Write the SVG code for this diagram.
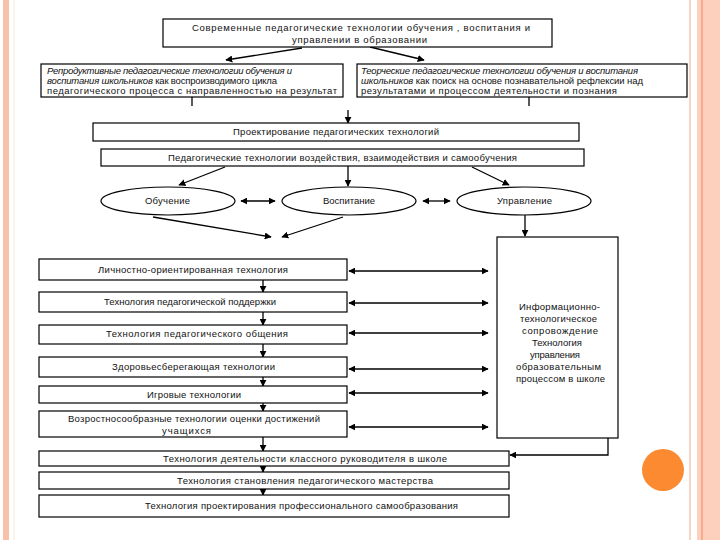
<svg xmlns="http://www.w3.org/2000/svg" width="720" height="540" viewBox="0 0 720 540">
<defs>
<marker id="ah" viewBox="0 0 10 10" refX="9" refY="5" markerWidth="7" markerHeight="7" orient="auto-start-reverse" markerUnits="userSpaceOnUse"><path d="M0,0 L10,5 L0,10 z" fill="#000"/></marker>
<style>
.b{fill:#fff;stroke:#000;stroke-width:1.2}
.t{font-family:"Liberation Sans",Arial,sans-serif;font-size:9.5px;fill:#111}
.c{text-anchor:middle}
.i{font-style:italic}
.l{stroke:#000;stroke-width:1.3;fill:none}
.a{stroke:#000;stroke-width:1.3;fill:none;marker-end:url(#ah)}
.d{stroke:#000;stroke-width:1.3;fill:none;marker-end:url(#ah);marker-start:url(#ah)}
</style>
</defs>
<rect width="720" height="540" fill="#fff"/>
<g id="decor">
<rect x="3" y="0" width="6" height="540" fill="#f9c2a8"/>
<line x1="14" y1="0" x2="14" y2="540" stroke="#f6ecd8" stroke-width="1"/>
<line x1="690" y1="0" x2="690" y2="540" stroke="#f5d6c6" stroke-width="2"/>
<rect x="697" y="0" width="23" height="540" fill="#fdd0bd"/>
<line x1="702" y1="0" x2="702" y2="540" stroke="#f2a07a" stroke-width="1.5"/>
<circle cx="663" cy="470" r="21" fill="#fb8a30"/>
</g>
<g id="connectors">
<line class="a" x1="302" y1="48" x2="226" y2="60"/>
<line class="a" x1="370" y1="47" x2="424" y2="60"/>
<line class="l" x1="192" y1="97" x2="192" y2="106"/>
<line class="l" x1="529" y1="97" x2="529" y2="106"/>
<line class="a" x1="348" y1="110" x2="348" y2="123"/>
<line class="a" x1="225" y1="167" x2="179" y2="185"/>
<line class="a" x1="348" y1="166" x2="348" y2="186"/>
<line class="a" x1="472" y1="167" x2="509" y2="185"/>
<line class="d" x1="241" y1="201" x2="275" y2="201"/>
<line class="d" x1="423" y1="201" x2="450" y2="201"/>
<line class="a" x1="153" y1="217" x2="271" y2="237"/>
<line class="a" x1="343" y1="217" x2="282" y2="237"/>
<line class="a" x1="525" y1="214" x2="525" y2="236"/>
<line class="d" x1="349" y1="271" x2="488" y2="271"/>
<line class="d" x1="349" y1="303" x2="488" y2="303"/>
<line class="d" x1="349" y1="333" x2="488" y2="333"/>
<line class="d" x1="349" y1="369" x2="488" y2="369"/>
<line class="d" x1="349" y1="393" x2="488" y2="393"/>
<line class="d" x1="349" y1="427" x2="488" y2="427"/>
<line class="a" x1="263" y1="280" x2="263" y2="292"/>
<line class="a" x1="263" y1="312" x2="263" y2="325"/>
<line class="a" x1="263" y1="344" x2="263" y2="357"/>
<line class="a" x1="263" y1="377" x2="263" y2="386"/>
<line class="a" x1="263" y1="403" x2="263" y2="411"/>
<line class="a" x1="263" y1="437" x2="263" y2="451"/>
<line class="a" x1="263" y1="466" x2="263" y2="472"/>
<line class="a" x1="263" y1="489" x2="263" y2="495"/>
<polyline class="a" points="547,426 608,426 608,455 510,455"/>
</g>
<g id="n-top">
<rect class="b" x="163" y="19" width="389" height="28"/>
<text class="t" x="192" y="31" textLength="338" lengthAdjust="spacing">Современные педагогические технологии обучения , воспитания и</text>
<text class="t" x="292" y="43" textLength="135" lengthAdjust="spacing">управлении в образовании</text>
</g>
<g id="n-repro">
<rect class="b" x="41" y="64" width="302" height="33"/>
<text class="t i" x="47" y="74" textLength="245" lengthAdjust="spacing">Репродуктивные педагогические технологии обучения и</text>
<text class="t" x="47" y="84" textLength="230" lengthAdjust="spacing"><tspan class="i">воспитания школьников</tspan> как воспроизводимого цикла</text>
<text class="t" x="47" y="94" textLength="290" lengthAdjust="spacing">педагогического процесса с направленностью на результат</text>
</g>
<g id="n-creative">
<rect class="b" x="357" y="64" width="330" height="33"/>
<text class="t i" x="361" y="74" textLength="277" lengthAdjust="spacing">Теорческие педагогические технологии обучения и воспитания</text>
<text class="t" x="361" y="84" textLength="282" lengthAdjust="spacing"><tspan class="i">школьников</tspan> как поиск на основе познавательной рефлексии над</text>
<text class="t" x="361" y="94" textLength="256" lengthAdjust="spacing">результатами и процессом деятельности и познания</text>
</g>
<g id="n-design">
<rect class="b" x="93" y="123" width="486" height="18"/>
<text class="t" x="233" y="135" textLength="206" lengthAdjust="spacing">Проектирование педагогических технологий</text>
</g>
<g id="n-ped">
<rect class="b" x="101" y="149" width="483" height="17"/>
<text class="t" x="168" y="161" textLength="349" lengthAdjust="spacing">Педагогические технологии воздействия, взаимодействия и самообучения</text>
</g>
<g id="n-obuch">
<ellipse class="b" cx="168" cy="201" rx="67" ry="14"/>
<text class="t" x="145" y="204" textLength="45" lengthAdjust="spacing">Обучение</text>
</g>
<g id="n-vosp">
<ellipse class="b" cx="349" cy="201" rx="67" ry="14"/>
<text class="t" x="323" y="204" textLength="52" lengthAdjust="spacing">Воспитание</text>
</g>
<g id="n-upr">
<ellipse class="b" cx="524" cy="201" rx="67" ry="14"/>
<text class="t" x="497" y="204" textLength="55" lengthAdjust="spacing">Управление</text>
</g>
<g id="n-info">
<rect class="b" x="497" y="237" width="121" height="201"/>
<text class="t" x="519" y="310" textLength="81" lengthAdjust="spacing">Информационно-</text>
<text class="t" x="520" y="322" textLength="77" lengthAdjust="spacing">технологическое</text>
<text class="t" x="522" y="334" textLength="76" lengthAdjust="spacing">сопровождение</text>
<text class="t" x="532" y="346" textLength="50" lengthAdjust="spacing">Технология</text>
<text class="t" x="530" y="358" textLength="50" lengthAdjust="spacing">управления</text>
<text class="t" x="516" y="370" textLength="85" lengthAdjust="spacing">образовательным</text>
<text class="t" x="516" y="382" textLength="89" lengthAdjust="spacing">процессом в школе</text>
</g>
<g id="n-l1">
<rect class="b" x="39" y="259" width="308" height="21"/>
<text class="t" x="98" y="273" textLength="190" lengthAdjust="spacing">Личностно-ориентированная технология</text>
</g>
<g id="n-l2">
<rect class="b" x="39" y="292" width="308" height="20"/>
<text class="t" x="104" y="305" textLength="172" lengthAdjust="spacing">Технология педагогической поддержки</text>
</g>
<g id="n-l3">
<rect class="b" x="39" y="325" width="308" height="19"/>
<text class="t" x="106" y="337" textLength="182" lengthAdjust="spacing">Технология педагогического общения</text>
</g>
<g id="n-l4">
<rect class="b" x="39" y="357" width="308" height="20"/>
<text class="t" x="112" y="370" textLength="163" lengthAdjust="spacing">Здоровьесберегающая технологии</text>
</g>
<g id="n-l5">
<rect class="b" x="39" y="386" width="308" height="17"/>
<text class="t" x="147" y="398" textLength="94" lengthAdjust="spacing">Игровые технологии</text>
</g>
<g id="n-l6">
<rect class="b" x="39" y="411" width="308" height="26"/>
<text class="t" x="68" y="422" textLength="252" lengthAdjust="spacing">Возростносообразные технологии оценки достижений</text>
<text class="t" x="162" y="434" textLength="49" lengthAdjust="spacing">учащихся</text>
</g>
<g id="n-b1">
<rect class="b" x="39" y="451" width="470" height="15"/>
<text class="t" x="163" y="462" textLength="284" lengthAdjust="spacing">Технология деятельности классного руководителя в школе</text>
</g>
<g id="n-b2">
<rect class="b" x="39" y="472" width="470" height="17"/>
<text class="t" x="177" y="484" textLength="256" lengthAdjust="spacing">Технология становления педагогического мастерства</text>
</g>
<g id="n-b3">
<rect class="b" x="39" y="495" width="470" height="22"/>
<text class="t" x="145" y="509" textLength="313" lengthAdjust="spacing">Технология проектирования профессионального самообразования</text>
</g>
</svg>
